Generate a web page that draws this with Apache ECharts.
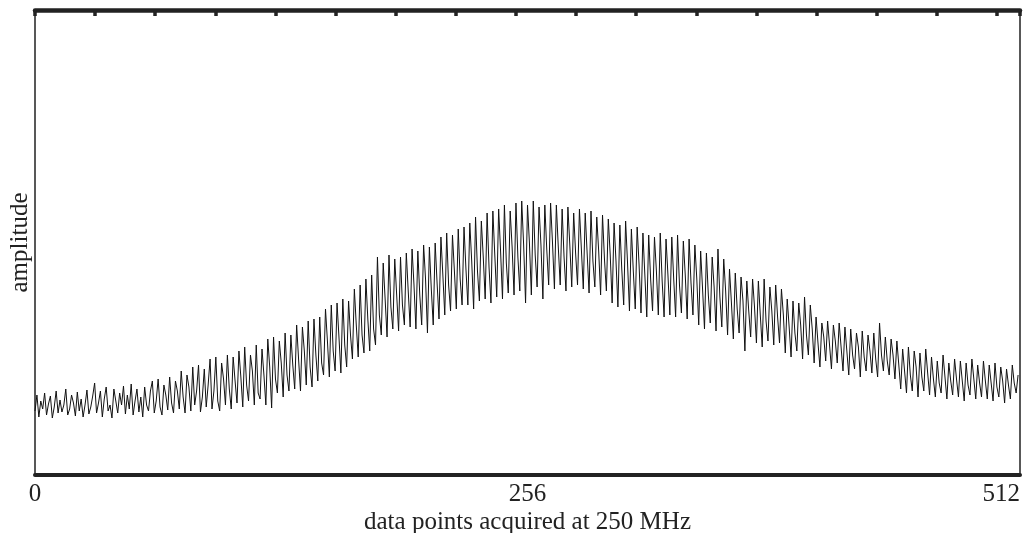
<!DOCTYPE html>
<html>
<head>
<meta charset="utf-8">
<script src="https://cdn.jsdelivr.net/npm/echarts@6/dist/echarts.min.js"></script>
<style>
  html, body { margin: 0; padding: 0; background: #fff; }
  #chart { width: 1027px; height: 533px; }
</style>
</head>
<body>
<div id="chart"></div>
<script>
// 512 samples (arbitrary amplitude units)
const amplitude = [
  64,80,58,74,66,82,60,71,79,57,68,84,62,75,63,
  70,86,60,66,80,72,59,83,64,76,58,70,85,61,68,
  79,92,62,72,84,58,76,88,64,70,57,86,74,62,82,
  70,89,61,80,66,91,60,74,86,63,78,58,88,70,64,
  84,94,62,74,96,68,60,90,80,65,98,72,62,94,84,
  66,104,78,62,100,88,64,108,70,84,110,63,78,106,68,
  90,116,66,84,118,74,64,112,96,70,120,86,66,118,94,
  72,124,98,68,128,90,74,120,104,70,130,82,76,126,100,
  70,136,108,67,138,96,82,134,112,78,142,100,84,140,110,
  86,150,116,84,148,124,90,154,108,88,156,120,94,158,112,
  100,166,134,98,170,124,104,172,138,102,176,130,108,174,140,
  116,186,150,118,190,140,122,196,156,124,200,146,130,218,160,
  140,212,176,138,220,168,146,216,180,144,218,170,150,222,184,
  148,226,190,146,224,180,150,230,196,142,228,186,150,232,192,
  156,238,200,160,242,190,164,240,204,166,246,196,170,248,206,
  170,252,214,166,258,204,174,254,218,176,262,208,172,264,220,
  178,266,224,176,270,212,182,264,228,180,272,218,184,274,230,
  172,270,232,180,274,220,188,268,230,176,270,226,190,272,232,
  186,270,228,190,266,218,184,268,230,188,262,222,190,266,226,
  186,262,222,182,264,214,188,258,224,180,260,216,184,256,220,
  172,252,214,168,250,206,170,254,212,164,246,204,166,248,210,
  162,242,200,158,240,196,164,238,204,160,242,194,158,236,200,
  160,238,196,158,240,190,162,234,200,156,236,192,160,230,196,
  150,224,186,146,222,180,152,218,188,144,226,178,148,216,184,
  140,206,172,136,202,166,142,198,174,124,194,164,138,196,168,
  132,194,160,128,196,154,134,188,164,130,190,158,132,186,160,
  122,176,148,118,174,142,124,172,150,116,178,140,120,170,146,
  112,158,132,108,152,138,114,154,130,106,150,134,112,152,128,
  104,148,124,100,146,120,106,142,128,98,144,118,104,140,124,
  102,142,116,98,152,120,104,138,114,100,136,120,96,134,110,
  86,126,104,82,128,100,84,124,108,78,122,98,84,126,102,
  80,118,96,78,114,92,82,120,98,76,112,94,80,116,96,
  78,114,94,74,112,90,80,116,96,76,110,92,78,114,94,
  76,110,92,74,112,88,78,108,94,72,106,90,76,110,92,
  82,100
];
const xRange = [0, 512];
const xLabelStep = 256;     // labels 0, 256, 512
const topTickStep = 31.25;  // 125 ns at 250 MHz
const yRange = [0, 465];

const font = "'Liberation Serif', 'DejaVu Serif', serif";
const ink = "#222";

let myChart = echarts.init(document.getElementById("chart"));
let option = {
  animation: false,
  grid: {
    left: 35,
    right: 7,
    top: 10,
    bottom: 58,
    outerBoundsMode: "none",
    containLabel: false,
    show: true,
    borderColor: ink,
    borderWidth: 1.5
  },
  xAxis: [
    {
      type: "value",
      position: "bottom",
      min: xRange[0],
      max: xRange[1],
      interval: xLabelStep,
      axisLine: { show: true, onZero: false, lineStyle: { color: ink, width: 4 } },
      axisTick: { show: false },
      splitLine: { show: false },
      axisLabel: {
        color: ink,
        fontFamily: font,
        fontSize: 25,
        margin: 7,
        alignMinLabel: "center",
        alignMaxLabel: "right"
      },
      name: "data points acquired at 250 MHz",
      nameLocation: "middle",
      nameGap: 35,
      nameMoveOverlap: false,
      nameTextStyle: { color: ink, fontFamily: font, fontSize: 25 }
    },
    {
      type: "value",
      position: "top",
      min: xRange[0],
      max: xRange[1],
      interval: topTickStep,
      axisLine: { show: true, onZero: false, lineStyle: { color: ink, width: 4.5 } },
      axisTick: { show: true, inside: true, length: 6, lineStyle: { color: ink, width: 3.5 } },
      axisLabel: { show: false },
      splitLine: { show: false }
    }
  ],
  yAxis: {
    type: "value",
    min: yRange[0],
    max: yRange[1],
    axisLine: { show: false },
    axisTick: { show: false },
    axisLabel: { show: false },
    splitLine: { show: false },
    name: "amplitude",
    nameLocation: "middle",
    nameGap: 2,
    nameRotate: 90,
    nameTextStyle: { color: ink, fontFamily: font, fontSize: 25 }
  },
  series: [
    {
      type: "line",
      xAxisIndex: 0,
      showSymbol: false,
      lineStyle: { color: "#111", width: 1 },
      data: amplitude.map((v, i) => [i, v])
    }
  ]
};
myChart.setOption(option);
</script>
</body>
</html>
